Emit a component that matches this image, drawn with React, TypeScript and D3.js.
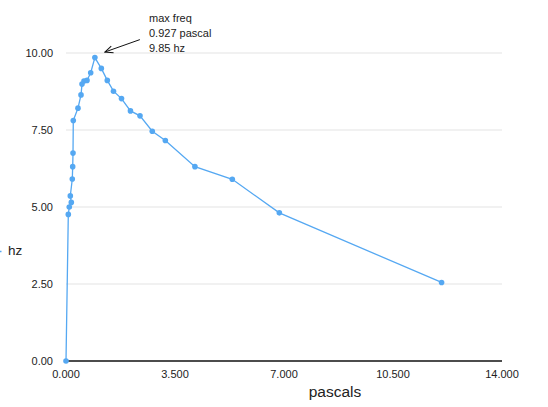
import * as d3 from "d3";
import { useMemo } from "react";

const WIDTH = 548;
const HEIGHT = 407;
const MARGIN = { top: 53, right: 46, bottom: 46, left: 66 };

// pressure (pascals) vs frequency (hz)
const pascals = [
  0, 0.074, 0.106, 0.17, 0.138, 0.202, 0.215, 0.225, 0.234, 0.385, 0.482,
  0.514, 0.578, 0.674, 0.793, 0.927, 1.134, 1.326, 1.525, 1.782, 2.07, 2.376,
  2.77, 3.19, 4.14, 5.34, 6.85, 12.06,
];
const hz = [
  0, 4.76, 5.0, 5.15, 5.36, 5.91, 6.31, 6.75, 7.81, 8.21, 8.64, 8.99, 9.09,
  9.11, 9.36, 9.85, 9.5, 9.11, 8.76, 8.52, 8.12, 7.96, 7.46, 7.16, 6.31, 5.9,
  4.81, 2.55,
];
const xTicks = [0, 3.5, 7, 10.5, 14];
const yTicks = [0, 2.5, 5, 7.5, 10];
const annotation = ["max freq", "0.927 pascal", "9.85 hz"];

const BLUE = "#55a8f2";
const FONT = "'Liberation Sans', Arial, Helvetica, sans-serif";

export default function App() {
  const data = useMemo(() => pascals.map((p, i) => ({ x: p, y: hz[i] })), []);

  const xScale = d3
    .scaleLinear()
    .domain([0, 14])
    .range([MARGIN.left, WIDTH - MARGIN.right]);
  const yScale = d3
    .scaleLinear()
    .domain([0, 10])
    .range([HEIGHT - MARGIN.bottom, MARGIN.top]);

  const linePath = d3
    .line<{ x: number; y: number }>()
    .x((d) => xScale(d.x))
    .y((d) => yScale(d.y))(data);

  // peak point for the annotation
  const peak = data.reduce((a, b) => (b.y > a.y ? b : a));
  const px = xScale(peak.x);
  const py = yScale(peak.y);

  return (
    <svg
      width={WIDTH}
      height={HEIGHT}
      style={{ position: "absolute", left: 0, top: 0, fontFamily: FONT }}
    >
      <defs>
        <marker
          id="openArrow"
          viewBox="0 0 10 10"
          refX="9"
          refY="5"
          markerWidth="10"
          markerHeight="10"
          orient="auto"
          markerUnits="userSpaceOnUse"
        >
          <path d="M1,1.5 L9,5 L1,8.5" fill="none" stroke="#111" strokeWidth="1" />
        </marker>
      </defs>
      <rect width={WIDTH} height={HEIGHT} fill="#fff" />

      {/* gridlines */}
      {yTicks
        .filter((t) => t > 0)
        .map((t) => (
          <line
            key={t}
            x1={xScale(0)}
            x2={xScale(14)}
            y1={yScale(t)}
            y2={yScale(t)}
            stroke="#e3e3e3"
            strokeWidth={1}
          />
        ))}

      {/* y tick labels */}
      {yTicks.map((t) => (
        <text
          key={t}
          x={53}
          y={yScale(t)}
          dy="0.35em"
          textAnchor="end"
          fontSize={11}
          fill="#222"
        >
          {t.toFixed(2)}
        </text>
      ))}

      {/* x axis */}
      <line
        x1={xScale(0)}
        x2={xScale(14)}
        y1={yScale(0)}
        y2={yScale(0)}
        stroke="#111"
        strokeWidth={1.3}
      />
      {xTicks.map((t) => (
        <text
          key={t}
          x={xScale(t)}
          y={378}
          textAnchor="middle"
          fontSize={11}
          fill="#222"
        >
          {t.toFixed(3)}
        </text>
      ))}
      <text x={335} y={397} textAnchor="middle" fontSize={15.5} fill="#222">
        pascals
      </text>

      {/* legend-ish label on the left */}
      <line x1={-4} x2={1.5} y1={251.5} y2={251.5} stroke={BLUE} strokeWidth={1.5} />
      <text x={8} y={255} fontSize={13.5} fill="#222">
        hz
      </text>

      {/* series */}
      <path d={linePath ?? ""} fill="none" stroke={BLUE} strokeWidth={1.3} />
      {data.map((d, i) => (
        <circle key={i} cx={xScale(d.x)} cy={yScale(d.y)} r={2.8} fill={BLUE} />
      ))}

      {/* annotation */}
      <line
        x1={px + 45}
        y1={py - 18}
        x2={px + 10}
        y2={py - 5.6}
        stroke="#111"
        strokeWidth={1}
        markerEnd="url(#openArrow)"
      />
      {annotation.map((s, i) => (
        <text key={s} x={149} y={22 + i * 15} fontSize={11} fill="#222">
          {s}
        </text>
      ))}
    </svg>
  );
}
